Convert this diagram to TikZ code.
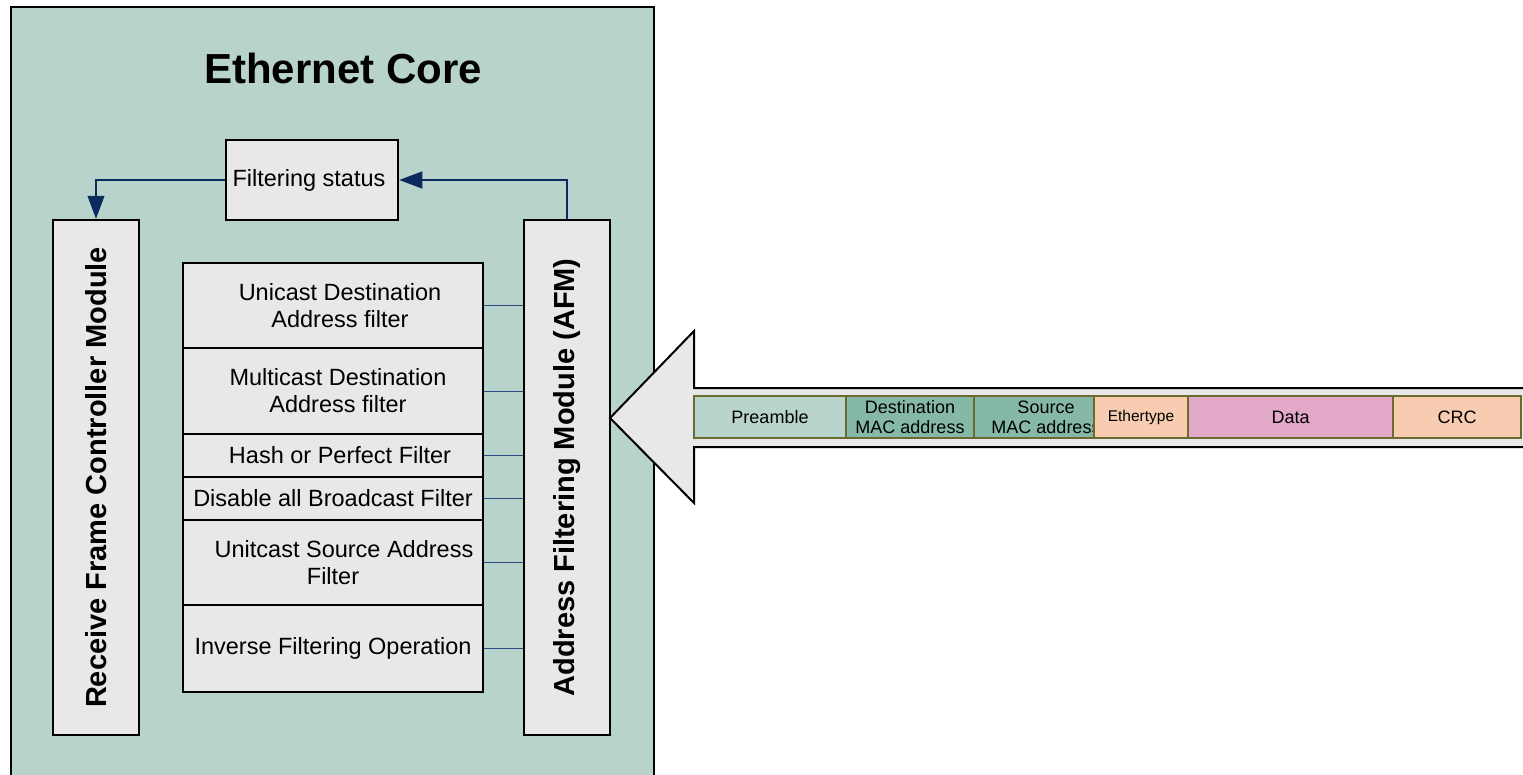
\documentclass[tikz,border=0pt]{standalone}
\usepackage{fontspec}
\setmainfont{Liberation Sans}
\usetikzlibrary{arrows.meta}
\definecolor{corebg}{HTML}{B7D3CB}
\definecolor{boxfill}{HTML}{E8E8E8}
\definecolor{navy}{HTML}{0B2A5C}
\definecolor{thinblue}{HTML}{2B4C7E}
\definecolor{precol}{HTML}{B8D4CC}
\definecolor{maccol}{HTML}{86B8A8}
\definecolor{peach}{HTML}{F8CCB0}
\definecolor{pinkcol}{HTML}{E2A8C8}
\definecolor{cellline}{HTML}{6B6B30}
\begin{document}
\begin{tikzpicture}[x=1pt,y=-1pt,
 box/.style={draw=black, line width=2.5pt, fill=boxfill, inner sep=0pt},
 filt/.style={box, minimum width=300pt, font=\fontsize{23.5}{27}\selectfont, align=center},
 vlabel/.style={rotate=90, font=\bfseries\fontsize{29}{32}\selectfont, inner sep=0pt},
 conn/.style={draw=navy, line width=1.2pt, -{Triangle[length=23pt,width=17pt]}},
 tie/.style={draw=thinblue, line width=1pt},
 cell/.style={draw=cellline, line width=1.2pt, minimum height=42pt, inner sep=0pt, outer sep=0pt, anchor=west, font=\fontsize{18}{20}\selectfont, align=center}
]
\useasboundingbox (0,0) rectangle (1523,774);

% Ethernet core background
\node[draw=black, line width=2pt, fill=corebg, minimum width=643pt, minimum height=800pt, anchor=north west, inner sep=0pt] (core) at (10,6) {};
\node[font=\bfseries\fontsize{42}{46}\selectfont] (title) at (343,68) {Ethernet Core};

% Filtering status
\node[box, minimum width=172pt, minimum height=80pt, font=\fontsize{23.5}{27}\selectfont] (fs) at (312,180) {Filtering status\hspace*{6pt}};

% Side modules
\node[box, minimum width=86pt, minimum height=515pt] (rfc) at (96,477.5) {};
\node[vlabel] (rfcl) at (rfc.center) {Receive Frame Controller Module};
\node[box, minimum width=86pt, minimum height=515pt] (afm) at (567,477.5) {};
\node[vlabel] (afml) at (afm.center) {Address Filtering Module (AFM)};

% Filter stack
\node[filt, minimum height=85pt] (f1) at (333,305.5) {\hspace*{14pt}Unicast Destination\\\hspace*{14pt}Address filter};
\node[filt, minimum height=86pt] (f2) at (333,391) {\hspace*{10pt}Multicast Destination\\\hspace*{10pt}Address filter};
\node[filt, minimum height=43pt] (f3) at (333,455.5) {\hspace*{14pt}Hash or Perfect Filter};
\node[filt, minimum height=43pt] (f4) at (333,498.5) {Disable all Broadcast Filter};
\node[filt, minimum height=85pt] (f5) at (333,562.5) {\hspace*{22pt}Unitcast Source Address\\Filter};
\node[filt, minimum height=87pt] (f6) at (333,648.5) {Inverse Filtering Operation};

% Ties from filters to AFM
\foreach \f in {f1,f2,f3,f4,f5,f6} {
  \draw[tie] (\f.east) -- (\f.east -| afm.west);
}

% Status arrows
\draw[conn] (afm.north) |- (fs.east);
\draw[conn] (fs.west) -| (rfc.north);

% Big incoming arrow
\path[fill=boxfill] (1530,388) -- (694,388) -- (694,331) -- (610,418) -- (694,503) -- (694,447) -- (1530,447) -- cycle;
\draw[line width=2pt, line join=miter] (1530,388) -- (694,388) -- (694,331) -- (610,418) -- (694,503) -- (694,447) -- (1530,447);

% Frame fields
\node[cell, fill=precol, minimum width=152pt] (pre) at (694,417) {Preamble};
\node[cell, fill=maccol, minimum width=128pt] (dst) at (pre.east) {Destination\\MAC address};
\node[cell, fill=maccol, minimum width=120pt] (src) at (dst.east) {};
\begin{scope}
  \clip (src.south west) rectangle (src.north east);
  \node[font=\fontsize{18}{20}\selectfont, align=center] (srcl) at ([xshift=12pt]src.center) {Source\\MAC address};
\end{scope}
\draw[draw=cellline, line width=1.2pt] (src.south west) rectangle (src.north east);
\node[cell, fill=peach, minimum width=94pt, font=\fontsize{15.5}{18}\selectfont] (eth) at (src.east) {Ethertype};
\node[cell, fill=pinkcol, minimum width=205pt] (data) at (eth.east) {Data};
\node[cell, fill=peach, minimum width=128pt] (crc) at (data.east) {CRC};
\end{tikzpicture}
\end{document}
